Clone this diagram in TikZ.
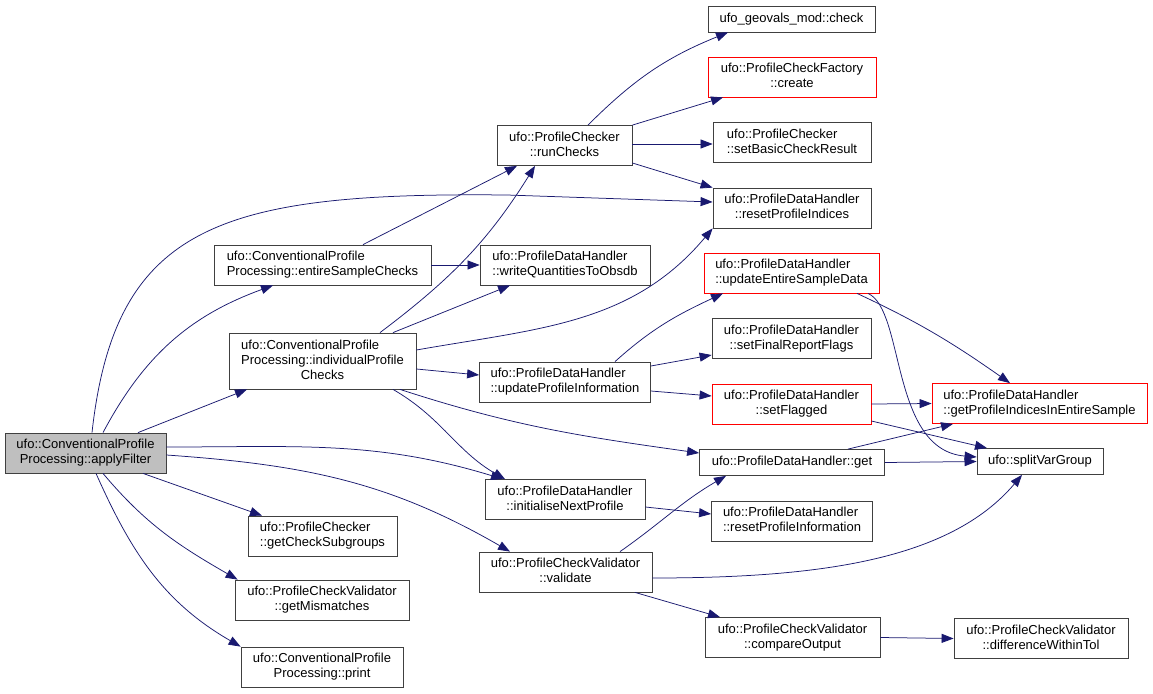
\documentclass[tikz,border=0pt]{standalone}
\usepackage{fontspec}
\setmainfont{Liberation Sans}
\usetikzlibrary{arrows.meta}
\definecolor{edgeblue}{RGB}{25,25,112}
\newcommand{\fnlabel}[2]{\begin{tabular}{@{}c@{}}\multicolumn{1}{@{}l@{}}{#1}\\#2\end{tabular}}

\begin{document}
\begin{tikzpicture}[>={Triangle[length=12pt,width=9pt]},x=1pt,y=1pt,
  fn/.style={draw=black!75,line width=0.8pt,inner sep=0pt,minimum height=40pt,font=\fontsize{13}{15}\selectfont},
  fnred/.style={fn,draw=red},
  one/.style={minimum height=26pt},
  three/.style={minimum height=56pt},
  call/.style={draw=edgeblue,line width=0.75pt,->}]
\useasboundingbox[fill=white] (0,0) rectangle (1153,-693);
\node[fn,fill=gray!50,minimum width=161pt] (apply) at (85.5,-453) {\fnlabel{ufo::ConventionalProfile}{Processing::applyFilter}};
\node[fn,minimum width=217pt] (entire) at (322.5,-265) {\fnlabel{ufo::ConventionalProfile}{Processing::entireSampleChecks}};
\node[fn,three,minimum width=187pt] (indiv) at (322.5,-361) {\fnlabel{ufo::ConventionalProfile}{Processing::individualProfile\\Checks}};
\node[fn,minimum width=149pt] (chksub) at (322.5,-536) {\fnlabel{ufo::ProfileChecker}{::getCheckSubgroups}};
\node[fn,minimum width=174pt] (mism) at (322,-600) {\fnlabel{ufo::ProfileCheckValidator}{::getMismatches}};
\node[fn,minimum width=162pt] (print) at (322,-667) {\fnlabel{ufo::ConventionalProfile}{Processing::print}};
\node[fn,minimum width=135pt] (runchk) at (564.5,-145.5) {\fnlabel{ufo::ProfileChecker}{::runChecks}};
\node[fn,minimum width=170pt] (writeq) at (565,-265) {\fnlabel{ufo::ProfileDataHandler}{::writeQuantitiesToObsdb}};
\node[fn,minimum width=171pt] (updinfo) at (565,-382) {\fnlabel{ufo::ProfileDataHandler}{::updateProfileInformation}};
\node[fn,minimum width=160pt] (initnext) at (565,-499.5) {\fnlabel{ufo::ProfileDataHandler}{::initialiseNextProfile}};
\node[fn,minimum width=173pt] (validate) at (565.5,-572) {\fnlabel{ufo::ProfileCheckValidator}{::validate}};
\node[fn,one,minimum width=167pt] (geovals) at (791.5,-19) {ufo\_geovals\_mod::check};
\node[fnred,minimum width=168pt] (create) at (792,-77) {\fnlabel{ufo::ProfileCheckFactory}{::create}};
\node[fn,minimum width=158pt] (setbasic) at (792,-142.5) {\fnlabel{ufo::ProfileChecker}{::setBasicCheckResult}};
\node[fn,minimum width=158pt] (resetidx) at (792,-208) {\fnlabel{ufo::ProfileDataHandler}{::resetProfileIndices}};
\node[fnred,minimum width=175pt] (updentire) at (791.5,-273) {\fnlabel{ufo::ProfileDataHandler}{::updateEntireSampleData}};
\node[fn,minimum width=159pt] (setfinal) at (791.5,-338.5) {\fnlabel{ufo::ProfileDataHandler}{::setFinalReportFlags}};
\node[fnred,minimum width=159pt] (setflag) at (791.5,-404) {\fnlabel{ufo::ProfileDataHandler}{::setFlagged}};
\node[fn,one,minimum width=185pt] (get) at (792,-462.5) {ufo::ProfileDataHandler::get};
\node[fn,minimum width=161pt] (resetinfo) at (792,-521) {\fnlabel{ufo::ProfileDataHandler}{::resetProfileInformation}};
\node[fn,minimum width=175pt] (compare) at (792.5,-637.5) {\fnlabel{ufo::ProfileCheckValidator}{::compareOutput}};
\node[fnred,minimum width=215pt] (getidx) at (1039.5,-403.5) {\fnlabel{ufo::ProfileDataHandler}{::getProfileIndicesInEntireSample}};
\node[fn,one,minimum width=126pt] (split) at (1040,-461.5) {ufo::splitVarGroup};
\node[fn,minimum width=174pt] (difftol) at (1041,-638.5) {\fnlabel{ufo::ProfileCheckValidator}{::differenceWithinTol}};
\draw[call] ([xshift=17.5]apply.north) to[out=62,in=200] ([xshift=-49.5]entire.south);
\draw[call] ([xshift=52.5]apply.north) -- ([xshift=-75.5]indiv.south);
\draw[call] ([xshift=6.5]apply.north) .. controls (115,-225) and (220,-192) .. (507,-195) -- ([yshift=6]resetidx.west);
\draw[call] ([yshift=6]apply.east) to[out=0,in=163] ([xshift=-62]initnext.north);
\draw[call] ([yshift=-2]apply.east) to[out=-4,in=150] ([xshift=-55.5]validate.north);
\draw[call] ([xshift=57.5]apply.south) -- ([xshift=-60.5]chksub.north);
\draw[call] ([xshift=17.5]apply.south) to[out=-50,in=150] ([xshift=3]mism.north west);
\draw[call] ([xshift=10.5]apply.south) to[out=-66,in=150] (print.north west);
\draw[call] ([xshift=40.5]entire.north) -- ([xshift=-47.5]runchk.south);
\draw[call] (entire.east) -- (writeq.west);
\draw[call] ([xshift=57.5]indiv.north) to[out=37,in=-122] ([xshift=-29.5]runchk.south);
\draw[call] ([xshift=70.5]indiv.north) -- ([xshift=-55]writeq.south);
\draw[call] ([yshift=11]indiv.east) to[out=10,in=-130] (resetidx.south west);
\draw[call] ([yshift=-8]indiv.east) -- ([yshift=7]updinfo.west);
\draw[call] ([xshift=70.5]indiv.south) to[out=-30,in=150] ([xshift=-60]initnext.north);
\draw[call] ([xshift=77.5]indiv.south) to[out=-18,in=172] ([yshift=9.5]get.west);
\draw[call] ([xshift=23.5]runchk.north) to[out=45,in=-158] ([xshift=-63.5]geovals.south);
\draw[call] (runchk.north east) -- ([xshift=-69]create.south);
\draw[call] ([yshift=1.5]runchk.east) -- ([yshift=-1.5]setbasic.west);
\draw[call] ([yshift=-17.5]runchk.east) -- (resetidx.north west);
\draw[call] ([xshift=50]updinfo.north) to[out=42,in=-155] ([xshift=-68.5]updentire.south);
\draw[call] ([yshift=16]updinfo.east) -- ([yshift=-16.5]setfinal.west);
\draw[call] ([yshift=-9]updinfo.east) -- ([yshift=8]setflag.west);
\draw[call] ([xshift=65.5]updentire.south) to[out=-25,in=145] ([xshift=-29.5]getidx.north);
\draw[call] ([xshift=76.5]updentire.south) .. controls (905,-310) and (890,-450) .. ([yshift=4.5]split.west);
\draw[call] (setflag.east) -- (getidx.west);
\draw[call] ([yshift=-17]setflag.east) -- ([xshift=-53]split.north);
\draw[call] ([xshift=56]get.north) -- ([xshift=-86.5]getidx.south);
\draw[call] (get.east) -- (split.west);
\draw[call] ([yshift=-7.5]initnext.east) -- ([yshift=7]resetinfo.west);
\draw[call] ([xshift=54.5]validate.north) to[out=35,in=-150] ([xshift=-66]get.south);
\draw[call] ([yshift=-6]validate.east) .. controls (820,-578) and (950,-560) .. ([xshift=-18]split.south);
\draw[call] ([xshift=69.5]validate.south) -- ([xshift=-72.5]compare.north);
\draw[call] (compare.east) -- (difftol.west);
\end{tikzpicture}
\end{document}
